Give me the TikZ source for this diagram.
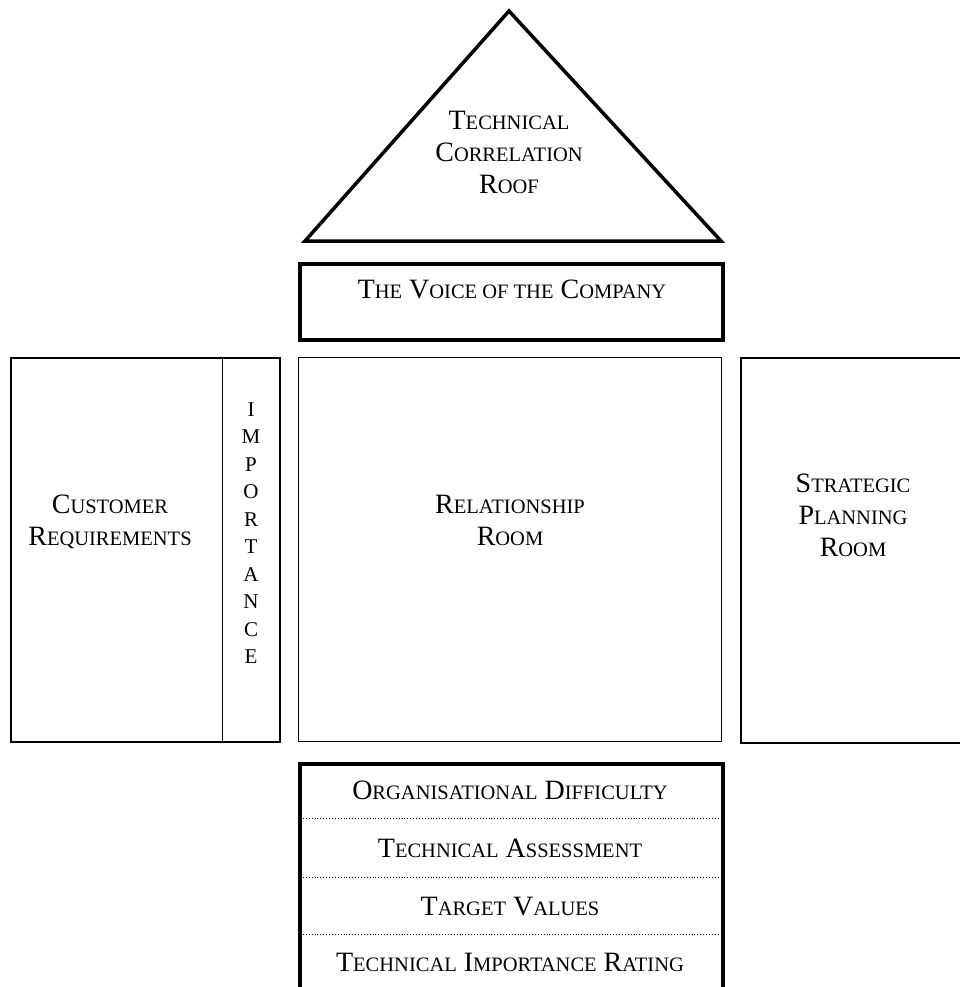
\documentclass[tikz,border=0pt]{standalone}
\usepackage{fontspec}
\setmainfont{Liberation Serif}
% hand-made small capitals: full-size initial, reduced capitals after it
\newcommand\lowcaps[1]{{\fontsize{20.5}{22}\selectfont #1}}
\begin{document}
\begin{tikzpicture}[x=1pt,y=-1pt,
  box/.style={draw, line width=#1, inner sep=0pt, anchor=north west},
  label/.style={align=center, inner sep=0pt, font=\fontsize{28}{32}\selectfont},
  divider/.style={dotted, line width=0.9pt}]
\useasboundingbox (0,0) rectangle (960,987);
\clip (0,0) rectangle (960,987);

% roof
\coordinate (apex) at (509,11);
\coordinate (eaveL) at (305,241);
\coordinate (eaveR) at (721,241);
\draw[line width=3.5pt, line join=miter] (apex) -- (eaveL) -- (eaveR) -- cycle;
\node[label] (roof) at (509,152) {T\lowcaps{ECHNICAL}\\C\lowcaps{ORRELATION}\\R\lowcaps{OOF}};

% voice of the company
\node[box=4pt, minimum width=423pt, minimum height=76pt] (voice) at (298,262) {};
\node[label] (voicetxt) at (512,289) {T\lowcaps{HE} V\lowcaps{OICE OF THE} C\lowcaps{OMPANY}};

% customer requirements and importance
\node[box=2pt, minimum width=269pt, minimum height=384pt] (cust) at (10,357) {};
\draw[line width=1pt] (cust.north west) ++(212,0) coordinate (divtop) -- (divtop |- cust.south);
\node[label] (custtxt) at (110,522) {C\lowcaps{USTOMER}\\R\lowcaps{EQUIREMENTS}};
\node[align=center, inner sep=0pt, font=\fontsize{21}{27.5}\selectfont] (imp) at (251,533)
  {I\\M\\P\\O\\R\\T\\A\\N\\C\\E};

% relationship room
\node[box=1pt, minimum width=423pt, minimum height=384pt] (rel) at (298,357) {};
\node[label] (reltxt) at (510,520) {R\lowcaps{ELATIONSHIP}\\R\lowcaps{OOM}};

% strategic planning room
\node[box=2pt, minimum width=260pt, minimum height=385pt] (strat) at (740,357) {};
\node[label] (strattxt) at (853,515) {S\lowcaps{TRATEGIC}\\P\lowcaps{LANNING}\\R\lowcaps{OOM}};

% basement
\node[box=4pt, minimum width=423pt, minimum height=260pt] (base) at (298,762) {};
\coordinate (d1) at (300,818);
\coordinate (d2) at (300,877);
\coordinate (d3) at (300,934);
\draw[divider] (d1) -- (d1 -| base.east);
\draw[divider] (d2) -- (d2 -| base.east);
\draw[divider] (d3) -- (d3 -| base.east);
\node[label] (org) at (510,790) {O\lowcaps{RGANISATIONAL} D\lowcaps{IFFICULTY}};
\node[label] (assess) at (510,848) {T\lowcaps{ECHNICAL} A\lowcaps{SSESSMENT}};
\node[label] (target) at (510,907) {T\lowcaps{ARGET} V\lowcaps{ALUES}};
\node[label] (rating) at (510,962) {T\lowcaps{ECHNICAL} I\lowcaps{MPORTANCE} R\lowcaps{ATING}};
\end{tikzpicture}
\end{document}
